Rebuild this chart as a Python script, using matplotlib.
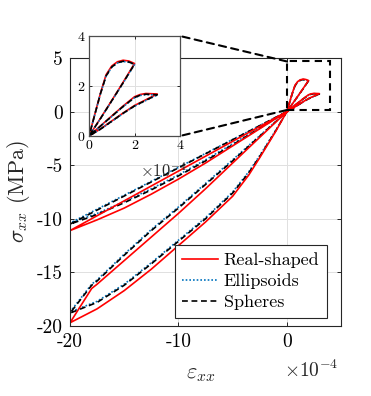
import warnings
warnings.filterwarnings("ignore")
import matplotlib
matplotlib.use("Agg")
import matplotlib.pyplot as plt
from matplotlib.patches import Rectangle, ConnectionPatch

plt.rcParams['font.family'] = 'serif'
plt.rcParams['font.serif'] = ['cmr10', 'DejaVu Serif']
plt.rcParams['mathtext.fontset'] = 'cm'
plt.rcParams['axes.unicode_minus'] = False
plt.rcParams['axes.formatter.use_mathtext'] = True

# ---------------- data (strain in units of 1e-4, stress in MPa) ----------------
# Real-shaped
real_A_load_e = [0, -1, -2.5, -3.5, -5, -7.5, -10, -12.5, -15, -17.5, -20]
real_A_load_s = [0, -1.8, -4.3, -5.9, -7.9, -10.3, -12.5, -14.7, -16.7, -18.4, -19.7]
real_A_unl_e = [-20, -18, -17.5, -15, -12.5, -10, -7.5, -5, -2.5, 0]
real_A_unl_s = [-19.7, -16.5, -16.1, -13.9, -11.7, -9.5, -7.2, -4.8, -2.4, 0]
real_B_e = [-20, -17.5, -15, -12.5, -10, -7.5, -5, -2.5, 0]
real_B_s = [-11.1, -10.1, -9.0, -7.7, -6.3, -4.8, -3.2, -1.6, 0]
real_C_load_e = [0, 0.25, 0.5, 0.75, 1.0, 1.25, 1.5, 1.75, 2.0]
real_C_load_s = [0, 0.85, 1.7, 2.45, 2.8, 2.97, 3.03, 3.0, 2.9]
real_C_unl_e = [2.0, 1.5, 1.0, 0.5, 0]
real_C_unl_s = [2.9, 2.15, 1.42, 0.7, 0]
real_D_load_e = [0, 0.5, 1.0, 1.5, 2.0, 2.25, 2.5, 3.0]
real_D_load_s = [0, 0.4, 0.8, 1.2, 1.57, 1.66, 1.7, 1.68]
real_D_unl_e = [3.0, 2.5, 2.0, 1.5, 1.0, 0.5, 0]
real_D_unl_s = [1.68, 1.45, 1.22, 0.92, 0.6, 0.28, 0]

# Ellipsoids
ell_A_load_e = [0, -1, -2.5, -3.5, -5, -7.5, -10, -12.5, -15, -17.5, -20]
ell_A_load_s = [0, -1.7, -4.1, -5.6, -7.5, -9.9, -12.0, -14.1, -16.1, -17.7, -18.7]
ell_A_unl_e = [-20, -18, -17.5, -15, -12.5, -10, -7.5, -5, -2.5, 0]
ell_A_unl_s = [-18.7, -16.1, -15.7, -13.3, -11.0, -8.9, -6.7, -4.5, -2.25, 0]
ell_B_e = [-20, -17.5, -15, -12.5, -10, -7.5, -5, -2.5, 0]
ell_B_s = [-10.4, -9.5, -8.4, -7.2, -5.9, -4.5, -3.0, -1.5, 0]
ell_C_load_e = [0, 0.25, 0.5, 0.75, 1.0, 1.25, 1.5, 1.75, 2.0]
ell_C_load_s = [0, 0.84, 1.68, 2.4, 2.75, 2.92, 2.98, 2.95, 2.86]
ell_C_unl_e = [2.0, 1.5, 1.0, 0.5, 0]
ell_C_unl_s = [2.86, 2.12, 1.4, 0.69, 0]
ell_D_load_e = [0, 0.5, 1.0, 1.5, 2.0, 2.25, 2.5, 3.0]
ell_D_load_s = [0, 0.39, 0.78, 1.17, 1.53, 1.62, 1.66, 1.64]
ell_D_unl_e = [3.0, 2.5, 2.0, 1.5, 1.0, 0.5, 0]
ell_D_unl_s = [1.64, 1.42, 1.19, 0.9, 0.58, 0.27, 0]

# Spheres
sph_A_load_e = [0, -1, -2.5, -3.5, -5, -7.5, -10, -12.5, -15, -17.5, -20]
sph_A_load_s = [0, -1.75, -4.2, -5.7, -7.6, -10.0, -12.1, -14.2, -16.2, -17.8, -18.8]
sph_A_unl_e = [-20, -18, -17.5, -15, -12.5, -10, -7.5, -5, -2.5, 0]
sph_A_unl_s = [-18.8, -16.2, -15.8, -13.4, -11.1, -9.0, -6.8, -4.6, -2.3, 0]
sph_B_e = [-20, -17.5, -15, -12.5, -10, -7.5, -5, -2.5, 0]
sph_B_s = [-10.5, -9.6, -8.5, -7.3, -6.0, -4.6, -3.1, -1.55, 0]
sph_C_load_e = [0, 0.25, 0.5, 0.75, 1.0, 1.25, 1.5, 1.75, 2.0]
sph_C_load_s = [0, 0.84, 1.68, 2.4, 2.76, 2.93, 2.99, 2.96, 2.87]
sph_C_unl_e = [2.0, 1.5, 1.0, 0.5, 0]
sph_C_unl_s = [2.87, 2.13, 1.41, 0.69, 0]
sph_D_load_e = [0, 0.5, 1.0, 1.5, 2.0, 2.25, 2.5, 3.0]
sph_D_load_s = [0, 0.39, 0.79, 1.18, 1.54, 1.63, 1.67, 1.65]
sph_D_unl_e = [3.0, 2.5, 2.0, 1.5, 1.0, 0.5, 0]
sph_D_unl_s = [1.65, 1.43, 1.2, 0.91, 0.59, 0.27, 0]

labels = ['Real-shaped', 'Ellipsoids', 'Spheres']
main_xticks = [-20, -10, 0]
main_xticklabels = ['-20', '-10', '0']
main_yticks = [-20, -15, -10, -5, 0, 5]
main_yticklabels = ['-20', '-15', '-10', '-5', '0', '5']
inset_ticks = [0, 2, 4]
inset_ticklabels = ['0', '2', '4']


def join(*pairs):
    xs, ys = [], []
    for e, s in pairs:
        xs += list(e)
        ys += list(s)
    return xs, ys


real_x, real_y = join((real_A_load_e, real_A_load_s), (real_A_unl_e, real_A_unl_s),
                      (real_B_e, real_B_s), (real_C_load_e, real_C_load_s),
                      (real_C_unl_e, real_C_unl_s), (real_D_load_e, real_D_load_s),
                      (real_D_unl_e, real_D_unl_s))
ell_x, ell_y = join((ell_A_load_e, ell_A_load_s), (ell_A_unl_e, ell_A_unl_s),
                    (ell_B_e, ell_B_s), (ell_C_load_e, ell_C_load_s),
                    (ell_C_unl_e, ell_C_unl_s), (ell_D_load_e, ell_D_load_s),
                    (ell_D_unl_e, ell_D_unl_s))
sph_x, sph_y = join((sph_A_load_e, sph_A_load_s), (sph_A_unl_e, sph_A_unl_s),
                    (sph_B_e, sph_B_s), (sph_C_load_e, sph_C_load_s),
                    (sph_C_unl_e, sph_C_unl_s), (sph_D_load_e, sph_D_load_s),
                    (sph_D_unl_e, sph_D_unl_s))

RED = (1, 0, 0)
BLUE = (0, 0.447, 0.741)
BLACK = 'black'
DARK = (0.15, 0.15, 0.15)
lw = 1.2

fig = plt.figure(figsize=(3.71, 3.96), dpi=100)
ax = fig.add_axes([0.1887, 0.1768, 0.7305, 0.6767])

l_ell, = ax.plot(ell_x, ell_y, color=BLUE, lw=lw, ls=(0, (1, 1.2)), zorder=2, label=labels[1])
l_sph, = ax.plot(sph_x, sph_y, color=BLACK, lw=lw, ls=(0, (3.5, 2.2)), zorder=2.1, label=labels[2])
l_real, = ax.plot(real_x, real_y, color=RED, lw=lw, zorder=2.2, label=labels[0])

ax.set_xlim(-20, 5)
ax.set_ylim(-20, 5)
ax.set_xticks(main_xticks)
ax.set_xticklabels(main_xticklabels)
ax.set_yticks(main_yticks)
ax.set_yticklabels(main_yticklabels)
ax.tick_params(direction='in', length=3, width=0.7, labelsize=14, top=True, right=True,
               colors=DARK, labelcolor='black', pad=5)
ax.grid(True, color=(0.88, 0.88, 0.88), lw=0.7)
ax.set_axisbelow(True)
for sp in ax.spines.values():
    sp.set_color(DARK)
    sp.set_linewidth(0.8)

ax.set_xlabel(r'$\varepsilon_{xx}$', fontsize=16, color=DARK)
ax.xaxis.set_label_coords(0.483, -0.145)
ax.set_ylabel(r'$\sigma_{xx}$ (MPa)', fontsize=16, color=DARK)
ax.yaxis.set_label_coords(-0.14, 0.5)
ax.text(0.99, -0.165, r'$\times10^{-4}$', transform=ax.transAxes, ha='right', va='center',
        fontsize=14, color=DARK)

leg = ax.legend(handles=[l_real, l_ell, l_sph], loc='lower right',
                bbox_to_anchor=(0.947, 0.031), borderaxespad=0, fontsize=13,
                fancybox=False, framealpha=1, edgecolor=DARK,
                handlelength=2.0, handletextpad=0.3, labelspacing=0.3, borderpad=0.4)
leg.get_frame().set_linewidth(0.8)

# zoom rectangle
rect_x0, rect_y0, rect_x1, rect_y1 = 0.0, 0.15, 4.0, 4.68
ax.add_patch(Rectangle((rect_x0, rect_y0), rect_x1 - rect_x0, rect_y1 - rect_y0,
                       fill=False, ls=(0, (3.5, 2.5)), lw=1.5, color='black', zorder=3))

# inset
axi = fig.add_axes([0.2399, 0.6566, 0.2453, 0.2525])
axi.plot(real_x, real_y, color=RED, lw=lw, zorder=2)
axi.plot(ell_x, ell_y, color=BLUE, lw=lw, ls=(0, (1, 1.2)), zorder=2.1)
axi.plot(sph_x, sph_y, color=BLACK, lw=lw, ls=(0, (3.5, 2.2)), zorder=2.2)
axi.set_xlim(0, 4)
axi.set_ylim(0, 4)
axi.set_xticks(inset_ticks)
axi.set_xticklabels(inset_ticklabels)
axi.set_yticks(inset_ticks)
axi.set_yticklabels(inset_ticklabels)
axi.tick_params(direction='in', length=2.5, width=0.7, labelsize=10, top=True, right=True,
                colors=DARK, labelcolor='black', pad=3)
axi.grid(True, color=(0.88, 0.88, 0.88), lw=0.7)
axi.set_axisbelow(True)
for sp in axi.spines.values():
    sp.set_color((0.3, 0.3, 0.3))
    sp.set_linewidth(0.9)
axi.text(0.56, -0.35, r'$\times10^{-4}$', transform=axi.transAxes, ha='left', va='center',
         fontsize=12, color=DARK)

# connectors
c1 = ConnectionPatch(xyA=(rect_x0, rect_y1), coordsA=ax.transData,
                     xyB=(1, 1), coordsB=axi.transAxes,
                     ls=(0, (3.5, 2.5)), lw=1.5, color='black', zorder=5)
c2 = ConnectionPatch(xyA=(rect_x0, rect_y0), coordsA=ax.transData,
                     xyB=(1, 0), coordsB=axi.transAxes,
                     ls=(0, (3.5, 2.5)), lw=1.5, color='black', zorder=5)
fig.add_artist(c1)
fig.add_artist(c2)

fig.savefig('out.png', dpi=100)
